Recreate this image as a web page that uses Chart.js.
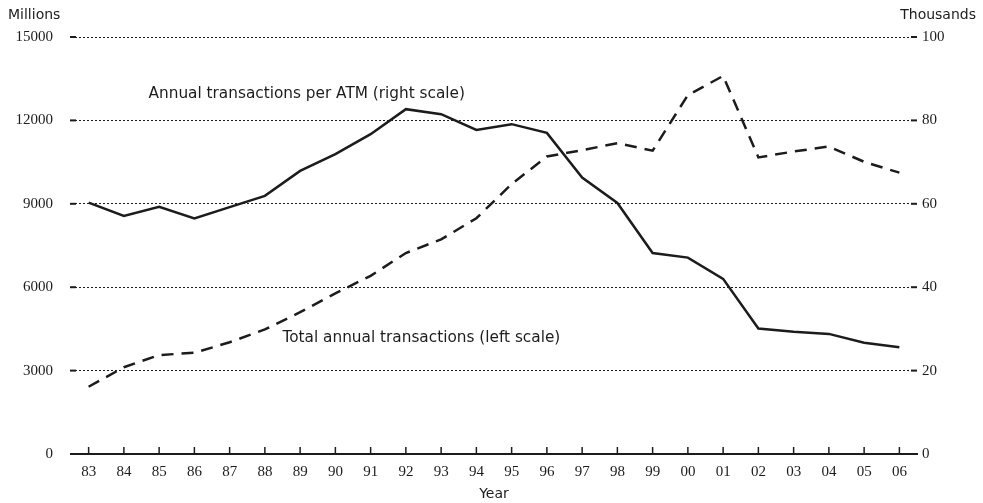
<!DOCTYPE html>
<html>
<head>
<meta charset="utf-8">
<script src="https://cdn.jsdelivr.net/npm/chart.js@4"></script>
<style>
  html, body { margin: 0; padding: 0; background: #fff; }
  #wrap { width: 983px; height: 503px; }
</style>
</head>
<body>
<div id="wrap"><canvas id="atmChart" width="983" height="503"></canvas></div>
<script>
"use strict";

// years on the x axis
const years = ['83','84','85','86','87','88','89','90','91','92','93','94','95','96','97','98','99','00','01','02','03','04','05','06'];
// total annual transactions, millions (left scale, dashed)
const totalTransactions = [2420, 3120, 3560, 3640, 4020, 4480, 5100, 5780, 6410, 7230, 7720, 8480, 9710, 10700, 10930, 11180, 10910, 12910, 13600, 10670, 10880, 11060, 10510, 10120];
// annual transactions per ATM, thousands (right scale, solid)
const perAtm = [60.3, 57.1, 59.3, 56.5, 59.2, 61.9, 67.9, 71.9, 76.7, 82.7, 81.5, 77.7, 79.1, 77.0, 66.3, 60.2, 48.2, 47.1, 42.0, 30.1, 29.3, 28.8, 26.7, 25.6];
// tick settings
const leftTicks = { min: 0, max: 15000, step: 3000 };
const rightTicks = { min: 0, max: 100, step: 20 };

const SANS = '"DejaVu Sans", sans-serif';
const SERIF = '"Liberation Serif", serif';
const INK = '#1c1c1c';

// inward tick marks, corner titles and the two line notes
const overlay = {
  id: 'overlay',
  afterDraw(chart) {
    const { ctx, chartArea, scales } = chart;
    ctx.save();
    ctx.strokeStyle = INK;

    ctx.lineWidth = 2;
    scales.yL.ticks.forEach((t, i) => {
      const y = scales.yL.getPixelForTick(i);
      ctx.beginPath(); ctx.moveTo(chartArea.left - 1, y); ctx.lineTo(chartArea.left + 5, y); ctx.stroke();
    });
    scales.yR.ticks.forEach((t, i) => {
      const y = scales.yR.getPixelForTick(i);
      ctx.beginPath(); ctx.moveTo(chartArea.right - 6, y); ctx.lineTo(chartArea.right, y); ctx.stroke();
    });

    ctx.lineWidth = 1.5;
    years.forEach((y, i) => {
      const x = scales.x.getPixelForValue(i);
      ctx.beginPath(); ctx.moveTo(x, chartArea.bottom); ctx.lineTo(x, chartArea.bottom - 7); ctx.stroke();
    });

    ctx.fillStyle = INK;
    ctx.font = '14px ' + SANS;
    ctx.textBaseline = 'middle';
    ctx.textAlign = 'left';
    ctx.fillText('Millions', 8, 15);
    ctx.textAlign = 'right';
    ctx.fillText('Thousands', 976, 15);

    ctx.font = '15.3px ' + SANS;
    ctx.textAlign = 'left';
    ctx.fillText('Annual transactions per ATM (right scale)',
      scales.x.getPixelForValue(1.7), scales.yR.getPixelForValue(86.3));
    ctx.fillText('Total annual transactions (left scale)',
      scales.x.getPixelForValue(5.5), scales.yL.getPixelForValue(4170));
    ctx.restore();
  }
};

const ctx = document.getElementById('atmChart').getContext('2d');
const atmChart = new Chart(ctx, {
  type: 'line',
  data: {
    labels: years,
    datasets: [{
      label: 'Annual transactions per ATM (right scale)',
      data: perAtm,
      yAxisID: 'yR',
      borderColor: INK,
      borderWidth: 2.5,
      pointRadius: 0,
      tension: 0,
      fill: false
    }, {
      label: 'Total annual transactions (left scale)',
      data: totalTransactions,
      yAxisID: 'yL',
      borderColor: INK,
      borderWidth: 2.5,
      borderDash: [12, 8],
      pointRadius: 0,
      tension: 0,
      fill: false
    }]
  },
  options: {
    responsive: false,
    animation: false,
    layout: { padding: { top: 37, left: 0, right: 0, bottom: 0 } },
    plugins: {
      legend: { display: false },
      tooltip: { enabled: false }
    },
    scales: {
      x: {
        offset: true,
        grid: { display: false, drawTicks: false },
        border: { display: true, color: INK, width: 2 },
        ticks: { color: INK, font: { family: SERIF, size: 15 }, padding: 9, maxRotation: 0, autoSkip: false },
        title: { display: true, text: 'Year', color: INK, font: { family: SANS, size: 14 }, padding: { top: 0, bottom: 0 } },
        afterFit(scale) { scale.height = 49; }
      },
      yL: {
        position: 'left',
        min: leftTicks.min,
        max: leftTicks.max,
        ticks: { stepSize: leftTicks.step, color: INK, font: { family: SERIF, size: 15 }, padding: 18,
                 callback: (v) => String(v) },
        grid: { color: INK, lineWidth: 1, drawTicks: false },
        border: { display: false, dash: [2, 2] },
        afterFit(scale) { scale.width = 71; }
      },
      yR: {
        position: 'right',
        min: rightTicks.min,
        max: rightTicks.max,
        ticks: { stepSize: rightTicks.step, color: INK, font: { family: SERIF, size: 15 }, padding: 5,
                 callback: (v) => String(v) },
        grid: { drawOnChartArea: false, drawTicks: false },
        border: { display: false },
        afterFit(scale) { scale.width = 66; }
      }
    }
  },
  plugins: [overlay]
});
</script>
</body>
</html>
